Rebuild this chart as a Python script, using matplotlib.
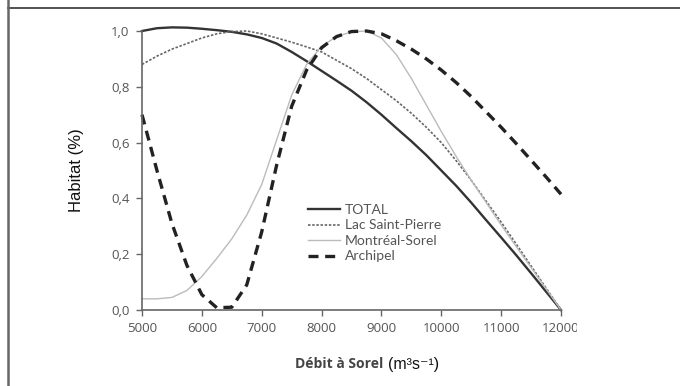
import matplotlib
matplotlib.use("Agg")
import matplotlib.pyplot as plt
from matplotlib.lines import Line2D
from matplotlib.transforms import Bbox, TransformedBbox

# débit à Sorel (m3/s)
debit = [5000, 5250, 5500, 5750, 6000, 6250, 6500, 6750, 7000, 7250, 7500, 7750, 8000, 8250, 8500,
         8750, 9000, 9250, 9500, 9750, 10000, 10250, 10500, 10750, 11000, 11250, 11500, 11750, 12000]

total = [1.0, 1.01, 1.013, 1.012, 1.008, 1.003, 0.997, 0.988, 0.975, 0.955, 0.925, 0.892, 0.857, 0.822, 0.786,
         0.745, 0.70, 0.652, 0.605, 0.555, 0.50, 0.445, 0.385, 0.322, 0.26, 0.197, 0.132, 0.066, 0.0]
lac_st_pierre = [0.88, 0.91, 0.935, 0.955, 0.975, 0.99, 0.998, 1.0, 0.99, 0.975, 0.96, 0.943, 0.925, 0.895, 0.865,
                 0.83, 0.79, 0.75, 0.705, 0.655, 0.60, 0.535, 0.465, 0.39, 0.315, 0.237, 0.158, 0.079, 0.0]
montreal_sorel = [0.04, 0.04, 0.045, 0.07, 0.12, 0.185, 0.255, 0.34, 0.45, 0.61, 0.77, 0.88, 0.945, 0.98, 0.997,
                  1.0, 0.975, 0.915, 0.83, 0.735, 0.64, 0.55, 0.465, 0.385, 0.305, 0.228, 0.152, 0.076, 0.0]
archipel = [0.70, 0.50, 0.31, 0.16, 0.055, 0.008, 0.01, 0.09, 0.28, 0.52, 0.73, 0.86, 0.94, 0.98, 0.998,
            1.0, 0.99, 0.965, 0.935, 0.90, 0.86, 0.815, 0.765, 0.71, 0.655, 0.597, 0.537, 0.477, 0.415]

xticks = [5000, 6000, 7000, 8000, 9000, 10000, 11000, 12000]
yticks = [0.0, 0.2, 0.4, 0.6, 0.8, 1.0]
ytick_labels = ["0,0", "0,2", "0,4", "0,6", "0,8", "1,0"]

W, H = 680, 386
fig = plt.figure(figsize=(6.8, 3.86), dpi=100)
ax = fig.add_axes([142 / W, 1 - 310 / H, 419 / W, 279 / H])

ax.plot(debit, total, color="#333333", lw=1.7, label="TOTAL", clip_on=False)
ax.plot(debit, lac_st_pierre, color="#666666", lw=1.2, ls=(0, (1.5, 1)), label="Lac Saint-Pierre", clip_on=False)
ax.plot(debit, montreal_sorel, color="#bbbbbb", lw=1.0, label="Montréal-Sorel", clip_on=False)
ax.plot(debit, archipel, color="#222222", lw=2.4, ls=(0, (3, 2)), label="Archipel", clip_on=False)

ax.set_xlim(5000, 12000)
ax.set_ylim(0, 1.0)
ax.set_xticks(xticks)
ax.set_yticks(yticks)
ax.set_yticklabels(ytick_labels)
for s in ["top", "right"]:
    ax.spines[s].set_visible(False)
for s in ["left", "bottom"]:
    ax.spines[s].set_color("#666666")
    ax.spines[s].set_linewidth(1.2)
ax.tick_params(colors="#666666", labelcolor="#555555", length=4, width=1, pad=5)
for lab in ax.get_xticklabels() + ax.get_yticklabels():
    lab.set_family("Open Sans")
    lab.set_fontsize(9.5)

# the last x label is cut off in the original
last = ax.get_xticklabels()[-1]
last.set_clip_box(TransformedBbox(Bbox([[0, 0], [577 / W, 1]]), fig.transFigure))
last.set_clip_on(True)

fig.text(76 / W, 1 - 170 / H, "Habitat (%)", family="Liberation Sans", fontsize=12, color="#111111",
         rotation=90, ha="center", va="center")

fig.text(383 / W, 1 - 364 / H, "Débit à Sorel", family="Open Sans", fontweight="bold", fontsize=10,
         color="#444444", ha="right", va="center")
fig.text(388 / W, 1 - 364 / H, "(m³s⁻¹)", family=["Liberation Sans Narrow", "Liberation Sans", "DejaVu Sans"],
         fontsize=11.5, color="#111111", ha="left", va="center")

ax.legend(loc="upper left", bbox_to_anchor=(308 / W, 1 - 204 / H), bbox_transform=fig.transFigure,
          frameon=False, handlelength=2.3, handletextpad=0.35, labelspacing=0.25,
          borderpad=0, borderaxespad=0, prop={"family": "Lato", "size": 10}, labelcolor="#555555")

# frame lines of the original figure cell
fig.add_artist(Line2D([8 / W, 1], [1 - 7.5 / H, 1 - 7.5 / H], transform=fig.transFigure, color="#222222", lw=1.1))
fig.add_artist(Line2D([8 / W, 8 / W], [0, 1], transform=fig.transFigure, color="#666666", lw=1.8))

fig.savefig("out.png", dpi=100)
